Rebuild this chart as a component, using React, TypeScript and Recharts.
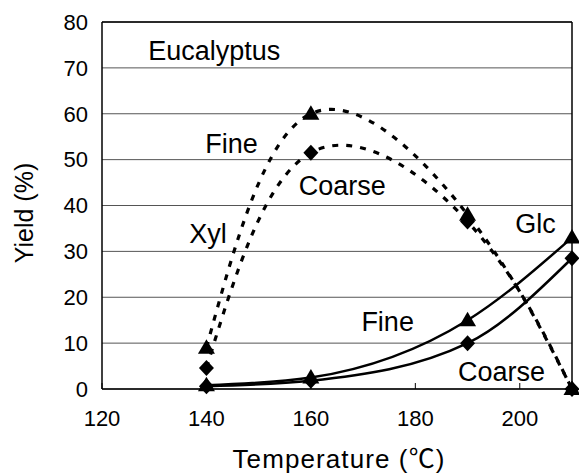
import React from "react";
import {
  CartesianGrid,
  Line,
  LineChart,
  ReferenceDot,
  ReferenceLine,
  XAxis,
  YAxis,
} from "recharts";

// reaction temperature (°C)
const temps = [140, 160, 190, 210];

// xylose yield (%)
const xylFine = [9, 60, 38, 0];
const xylCoarse = [4.6, 51.5, 36.5, 0];

// glucose yield (%)
const glcFine = [0.8, 2.5, 15, 33];
const glcCoarse = [0.6, 1.8, 10, 28.5];

const xTicks = [120, 140, 160, 180, 200];
const yTicks = [0, 10, 20, 30, 40, 50, 60, 70, 80];

// text placed in data coordinates
const notes = [
  { x: 141.5, y: 73.7, text: "Eucalyptus" },
  { x: 144.8, y: 53.6, text: "Fine" },
  { x: 140.3, y: 34, text: "Xyl" },
  { x: 166, y: 44.3, text: "Coarse" },
  { x: 203, y: 36, text: "Glc" },
  { x: 174.7, y: 14.7, text: "Fine" },
  { x: 196.5, y: 3.9, text: "Coarse" },
];

const rows = temps.map((t, i) => ({
  t,
  xylFine: xylFine[i],
  xylCoarse: xylCoarse[i],
  glcFine: glcFine[i],
  glcCoarse: glcCoarse[i],
}));

const FONT = "Liberation Sans, Arial, sans-serif";

function triangle(props: any) {
  const { cx, cy, index } = props;
  if (cx == null || cy == null) return <g key={index} />;
  return (
    <path
      key={index}
      d={`M${cx},${cy - 8.5} L${cx + 8.5},${cy + 6} L${cx - 8.5},${cy + 6} Z`}
      fill="#000"
    />
  );
}

function diamond(props: any) {
  const { cx, cy, index } = props;
  if (cx == null || cy == null) return <g key={index} />;
  return (
    <path
      key={index}
      d={`M${cx},${cy - 8} L${cx + 7.5},${cy} L${cx},${cy + 8} L${cx - 7.5},${cy} Z`}
      fill="#000"
    />
  );
}

function yTitle() {
  return (
    <text
      transform="translate(24,213) rotate(-90)"
      textAnchor="middle"
      dominantBaseline="central"
      fontSize={25}
      fill="#000"
    >
      Yield (%)
    </text>
  );
}

function xTitle() {
  return (
    <text
      x={339}
      y={468}
      textAnchor="middle"
      fontSize={26}
      letterSpacing={1.1}
      fill="#000"
    >
      Temperature (
      <tspan fontFamily="Noto Sans CJK JP">℃</tspan>)
    </text>
  );
}

export default function App() {
  return (
    <div style={{ position: "absolute", left: 0, top: 0, background: "#fff" }}>
      <LineChart
        width={579}
        height={475}
        data={rows}
        margin={{ top: 22, right: 7, bottom: 0, left: 0 }}
        style={{ fontFamily: FONT }}
      >
        <CartesianGrid vertical={false} stroke="#555" strokeWidth={1} />
        <XAxis
          dataKey="t"
          type="number"
          domain={[120, 210]}
          ticks={xTicks}
          height={86}
          axisLine={{ stroke: "#000", strokeWidth: 1.5 }}
          tickLine={{ stroke: "#000" }}
          tickSize={-6}
          tickMargin={27}
          tick={{ fill: "#000", fontSize: 22 }}
          label={{ content: xTitle }}
        />
        <YAxis
          type="number"
          domain={[0, 80]}
          ticks={yTicks}
          width={102}
          axisLine={{ stroke: "#000", strokeWidth: 1.5 }}
          tickLine={false}
          tickSize={0}
          tickMargin={14}
          tick={{ fill: "#000", fontSize: 22 }}
          label={{ content: yTitle }}
        />
        <ReferenceLine y={80} stroke="#000" strokeWidth={1.5} />
        <ReferenceLine x={210} stroke="#000" strokeWidth={1.5} />

        <Line
          dataKey="xylFine"
          type="natural"
          stroke="#000"
          strokeWidth={3.2}
          strokeDasharray="6 8"
          dot={triangle}
          isAnimationActive={false}
        />
        <Line
          dataKey="xylCoarse"
          type="natural"
          stroke="#000"
          strokeWidth={3.2}
          strokeDasharray="6 8"
          dot={diamond}
          isAnimationActive={false}
        />
        <Line
          dataKey="glcCoarse"
          type="monotone"
          stroke="#000"
          strokeWidth={2.5}
          dot={diamond}
          isAnimationActive={false}
        />
        <Line
          dataKey="glcFine"
          type="monotone"
          stroke="#000"
          strokeWidth={2.5}
          dot={triangle}
          isAnimationActive={false}
        />

        {notes.map((n, i) => (
          <ReferenceDot
            key={i}
            x={n.x}
            y={n.y}
            r={0}
            fill="none"
            stroke="none"
            ifOverflow="visible"
            label={{
              value: n.text,
              position: "center",
              fill: "#000",
              fontSize: 27,
            }}
          />
        ))}
      </LineChart>
    </div>
  );
}
